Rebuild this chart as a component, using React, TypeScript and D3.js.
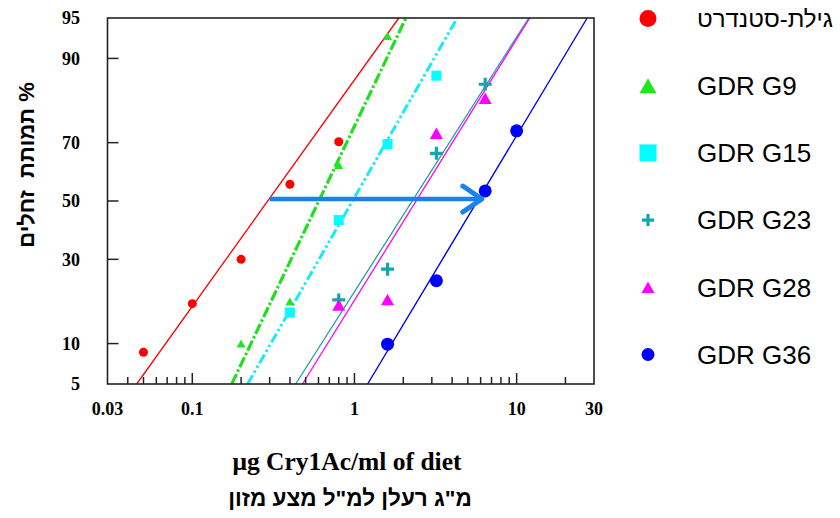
import React from "react";
import * as d3 from "d3";

// probit plot: dose (log) vs. % mortality (probit)
const seriesNames = ["גילת-סטנדרט", "GDR G9", "GDR G15", "GDR G23", "GDR G28", "GDR G36"];

const standardDose = [0.05, 0.1, 0.2, 0.4, 0.8];
const standardMort = [8.7, 17.8, 30, 56, 70.3];
const g9Dose = [0.2, 0.4, 0.8, 1.6];
const g9Mort = [10, 18.3, 62.7, 93.1];
const g15Dose = [0.4, 0.8, 1.6, 3.2];
const g15Mort = [15.8, 43.2, 69.6, 87];
const g23Dose = [0.8, 1.6, 3.2, 6.4];
const g23Mort = [18.7, 27, 66.6, 85.3];
const g28Dose = [0.8, 1.6, 3.2, 6.4];
const g28Mort = [17.5, 18.8, 72.9, 82.2];
const g36Dose = [1.6, 3.2, 6.4, 10];
const g36Mort = [9.9, 23.7, 53.6, 73.6];

// fitted probit lines
const lc50 = [0.292, 0.603, 0.972, 2.27, 2.4, 5.73];
const slopes = [2.035, 3.063, 2.545, 2.289, 2.347, 2.43];

const xTickLabels = [0.03, 0.1, 1, 10, 30];
const xMajorTicks = [0.1, 1, 10];
const xMinorTicks = [0.04, 0.05, 0.06, 0.07, 0.08, 0.09, 0.2, 0.3, 0.4, 0.5, 0.6, 0.7, 0.8, 0.9, 2, 3, 4, 5, 6, 7, 8, 9, 20];
const yTickLabels = [5, 10, 30, 50, 70, 90, 95];
const yTicks = [10, 30, 50, 70, 90];

// arrow annotation (dose from -> to, at % mortality)
const arrowFrom = 0.3;
const arrowTo = 6.1;
const arrowAt = 50.7;

const colors = ["#ff0000", "#22e622", "#00ffff", "#10a8a8", "#ff00ff", "#0000ff"];
const lineColors = ["#ff0000", "#22dd22", "#18eaf8", "#20a0a0", "#ff00ff", "#0000e6"];

function probit(p: number) {
  const a = [-39.69683028665376, 220.9460984245205, -275.9285104469687, 138.357751867269, -30.66479806614716, 2.506628277459239];
  const b = [-54.47609879822406, 161.5858368580409, -155.6989798598866, 66.80131188771972, -13.28068155288572];
  const c = [-0.007784894002430293, -0.3223964580411365, -2.400758277161838, -2.549732539343734, 4.374664141464968, 2.938163982698783];
  const d = [0.007784695709041462, 0.3224671290700398, 2.445134137142996, 3.754408661907416];
  const pl = 0.02425;
  if (p < pl) {
    const q = Math.sqrt(-2 * Math.log(p));
    return (((((c[0] * q + c[1]) * q + c[2]) * q + c[3]) * q + c[4]) * q + c[5]) / ((((d[0] * q + d[1]) * q + d[2]) * q + d[3]) * q + 1);
  }
  if (p <= 1 - pl) {
    const q = p - 0.5;
    const r = q * q;
    return ((((((a[0] * r + a[1]) * r + a[2]) * r + a[3]) * r + a[4]) * r + a[5]) * q) / (((((b[0] * r + b[1]) * r + b[2]) * r + b[3]) * r + b[4]) * r + 1);
  }
  const q = Math.sqrt(-2 * Math.log(1 - p));
  return -(((((c[0] * q + c[1]) * q + c[2]) * q + c[3]) * q + c[4]) * q + c[5]) / ((((d[0] * q + d[1]) * q + d[2]) * q + d[3]) * q + 1);
}

const left = 107.5;
const right = 594;
const top = 18;
const bottom = 384;

const x = d3.scaleLog().domain([0.03, 30]).range([left, right]);
const yP = d3.scaleLinear().domain([probit(0.05), probit(0.95)]).range([bottom, top]);
const y = (pct: number) => yP(probit(pct / 100));

const serif = "'Liberation Serif', 'Times New Roman', serif";
const sans = "'Liberation Sans', Arial, sans-serif";

type Shape = "circle" | "triangle" | "square" | "plus";
const shapes: Shape[] = ["circle", "triangle", "square", "plus", "triangle", "circle"];
const plotSizes = [9, 9, 10, 13, 13, 13];
const legendSizes = [17, 17, 17, 12, 13, 13];
const dashes = [undefined, "11 2.5 2.5 2.5", "10 3 2.5 3 2.5 3", undefined, undefined, undefined];
const widths = [1.3, 3.2, 3, 1.3, 1.3, 1.4];

function Marker({ shape, cx, cy, s, color }: { shape: Shape; cx: number; cy: number; s: number; color: string }) {
  const h = s / 2;
  if (shape === "circle") return <circle cx={cx} cy={cy} r={h} fill={color} />;
  if (shape === "square") return <rect x={cx - h} y={cy - h} width={s} height={s} fill={color} />;
  if (shape === "triangle") {
    const th = s * 0.88;
    return <path d={`M${cx},${cy - th / 2}L${cx + h},${cy + th / 2}L${cx - h},${cy + th / 2}Z`} fill={color} />;
  }
  return (
    <path d={`M${cx - h},${cy}H${cx + h}M${cx},${cy - h}V${cy + h}`} stroke={color} strokeWidth={3.2} fill="none" />
  );
}

export default function App() {
  const doses = [standardDose, g9Dose, g15Dose, g23Dose, g28Dose, g36Dose];
  const morts = [standardMort, g9Mort, g15Mort, g23Mort, g28Mort, g36Mort];
  const pLo = probit(0.05);
  const pHi = probit(0.95);
  const line = d3
    .line<[number, number]>()
    .x((d) => x(d[0]))
    .y((d) => yP(d[1]));

  const ax1 = x(arrowFrom);
  const ax2 = x(arrowTo);
  const ay = y(arrowAt);

  return (
    <div style={{ position: "absolute", left: 0, top: 0 }}>
      <svg width={840} height={518} style={{ display: "block", background: "#fff" }}>
        {/* fitted lines */}
        {lc50.map((m, i) => {
          const pts: [number, number][] = [
            [m * Math.pow(10, pLo / slopes[i]), pLo],
            [m * Math.pow(10, pHi / slopes[i]), pHi],
          ];
          return (
            <path
              key={"l" + i}
              d={line(pts) || ""}
              stroke={lineColors[i]}
              strokeWidth={widths[i]}
              strokeDasharray={dashes[i]}
              fill="none"
            />
          );
        })}

        {/* points */}
        {doses.map((ds, i) =>
          ds.map((v, j) => (
            <Marker key={"p" + i + "-" + j} shape={shapes[i]} cx={x(v)} cy={y(morts[i][j])} s={plotSizes[i]} color={colors[i]} />
          ))
        )}

        {/* arrow */}
        <g stroke="#1a82f0" fill="none">
          <line x1={ax1} x2={ax2} y1={ay} y2={ay} strokeWidth={4.5} />
          <path d={`M${ax2 - 19},${ay - 13}L${ax2},${ay}L${ax2 - 19},${ay + 13}`} strokeWidth={5} strokeLinecap="round" strokeLinejoin="round" />
        </g>

        {/* frame */}
        <rect x={left} y={top} width={right - left} height={bottom - top} fill="none" stroke="#222" strokeWidth={1.6} />

        {/* x ticks */}
        {xMajorTicks.map((v) => (
          <line key={"xm" + v} x1={x(v)} x2={x(v)} y1={bottom} y2={bottom - 11} stroke="#222" strokeWidth={1.5} />
        ))}
        {xMinorTicks.map((v) => (
          <line key={"xn" + v} x1={x(v)} x2={x(v)} y1={bottom} y2={bottom - 7} stroke="#222" strokeWidth={1.5} />
        ))}
        {xTickLabels.map((v) => (
          <text key={"xl" + v} x={x(v)} y={415} textAnchor="middle" fontFamily={serif} fontWeight="bold" fontSize={18}>
            {v}
          </text>
        ))}

        {/* y ticks */}
        {yTicks.map((v) => (
          <line key={"yt" + v} x1={left} x2={left + 11} y1={y(v)} y2={y(v)} stroke="#222" strokeWidth={1.5} />
        ))}
        {yTickLabels.map((v) => (
          <text key={"yl" + v} x={80} y={y(v)} dy="0.35em" textAnchor="end" fontFamily={serif} fontWeight="bold" fontSize={18}>
            {v}
          </text>
        ))}

        {/* axis titles */}
        <text
          transform="translate(34,165) rotate(-90)"
          textAnchor="middle"
          direction="rtl"
          fontFamily={sans}
          fontWeight="bold"
          fontSize={22}
          style={{ whiteSpace: "pre" }}
        >
          % תמותת  זחלים
        </text>
        <text x={347} y={470} textAnchor="middle" fontFamily={serif} fontWeight="bold" fontSize={25.5}>
          μg Cry1Ac/ml of diet
        </text>
        <text x={350} y={506} textAnchor="middle" direction="rtl" fontFamily={sans} fontWeight="bold" fontSize={22.5}>
          מ"ג רעלן למ"ל מצע מזון
        </text>

        {/* legend */}
        {seriesNames.map((name, i) => {
          const ly = 18.5 + i * 67.2;
          return (
            <g key={"lg" + i}>
              <Marker shape={shapes[i]} cx={648} cy={ly} s={legendSizes[i]} color={colors[i]} />
              <text
                x={697}
                y={ly}
                dy="0.36em"
                fontFamily={sans}
                fontSize={i === 0 ? 24 : 26}
                fill="#000"
                textLength={i === 0 ? 136 : undefined}
                lengthAdjust={i === 0 ? "spacingAndGlyphs" : undefined}
              >
                {name}
              </text>
            </g>
          );
        })}
      </svg>
    </div>
  );
}
